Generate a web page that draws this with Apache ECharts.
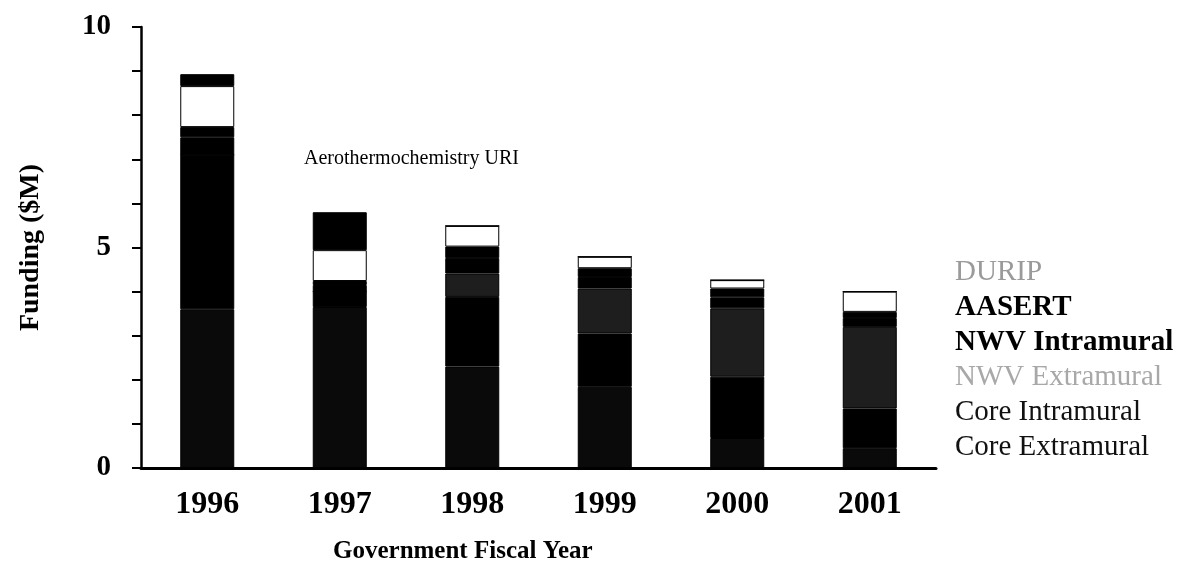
<!DOCTYPE html>
<html>
<head>
<meta charset="utf-8">
<script src="https://cdn.jsdelivr.net/npm/echarts@6/dist/echarts.min.js"></script>
<style>
  html, body { margin: 0; padding: 0; background: #fff; }
  #main { width: 1179px; height: 579px; }
</style>
</head>
<body>
<div id="main"></div>
<script>
// fiscal years on the x axis
const years = ['1996', '1997', '1998', '1999', '2000', '2001'];

// funding per program, $M, stacked bottom -> top
const coreExtramural = [3.60, 3.65, 2.30, 1.84, 0.68, 0.45];
const coreIntramural = [3.50, 0.35, 1.58, 1.21, 1.39, 0.90];
const nwvExtramural  = [0.00, 0.00, 0.53, 1.02, 1.55, 1.85];
const nwvIntramural  = [0.40, 0.15, 0.35, 0.26, 0.25, 0.20];
const aasert         = [0.23, 0.09, 0.26, 0.20, 0.20, 0.14];
const durip          = [0.93, 0.70, 0.47, 0.26, 0.19, 0.46];
const uri            = [0.27, 0.86, 0, 0, 0, 0];

const serif = '"Liberation Serif", "DejaVu Serif", serif';

const chart = echarts.init(document.getElementById('main'), null, { renderer: 'canvas' });

function barSeries(name, data, color) {
  return {
    name: name,
    type: 'bar',
    stack: 'funding',
    data: data,
    barWidth: 54,
    itemStyle: { color: color, borderColor: '#000', borderWidth: 1 },
    emphasis: { disabled: true }
  };
}

const option = {
  animation: false,
  backgroundColor: '#fff',
  textStyle: { fontFamily: serif, color: '#000' },
  grid: { left: 141, right: 243, top: 27, bottom: 111 },
  legend: {
    orient: 'vertical',
    left: 944,
    top: 250,
    selectedMode: false,
    itemWidth: 0,
    itemHeight: 0,
    itemGap: 0,
    itemStyle: { opacity: 0 },
    textStyle: { fontFamily: serif, fontSize: 29, lineHeight: 35, color: '#000', padding: 0 },
    data: [
      { name: 'DURIP', textStyle: { color: '#9a9a9a' } },
      { name: 'AASERT', textStyle: { fontWeight: 'bold' } },
      { name: 'NWV Intramural', textStyle: { fontWeight: 'bold' } },
      { name: 'NWV Extramural', textStyle: { color: '#a8a8a8' } },
      { name: 'Core Intramural', textStyle: { color: '#111' } },
      { name: 'Core Extramural', textStyle: { color: '#111' } }
    ]
  },
  xAxis: {
    type: 'category',
    data: years,
    axisLine: { lineStyle: { color: '#000', width: 3 } },
    axisTick: { show: false },
    axisLabel: { color: '#000', fontFamily: serif, fontWeight: 'bold', fontSize: 32, margin: 21 }
  },
  yAxis: {
    type: 'value',
    min: 0,
    max: 10,
    interval: 5,
    name: 'Funding ($M)',
    nameLocation: 'middle',
    nameRotate: 90,
    nameGap: 96,
    nameTextStyle: { color: '#000', fontFamily: serif, fontWeight: 'bold', fontSize: 28 },
    axisLine: { show: true, lineStyle: { color: '#000', width: 2.5 } },
    axisTick: { show: true, length: 9, lineStyle: { color: '#000', width: 2 } },
    minorTick: { show: true, splitNumber: 5, length: 9, lineStyle: { color: '#000', width: 2 } },
    splitLine: { show: false },
    axisLabel: { color: '#000', fontFamily: serif, fontWeight: 'bold', fontSize: 29, margin: 30 }
  },
  graphic: [
    {
      type: 'text',
      left: 304,
      top: 149,
      style: { text: 'Aerothermochemistry URI', font: '20px ' + serif, fill: '#000' }
    },
    {
      type: 'text',
      left: 333,
      top: 539,
      style: { text: 'Government Fiscal Year', font: 'bold 25px ' + serif, fill: '#000' }
    }
  ],
  series: [
    barSeries('Core Extramural', coreExtramural, '#0a0a0a'),
    barSeries('Core Intramural', coreIntramural, '#000'),
    barSeries('NWV Extramural', nwvExtramural, '#1e1e1e'),
    barSeries('NWV Intramural', nwvIntramural, '#000'),
    barSeries('AASERT', aasert, '#000'),
    barSeries('DURIP', durip, '#fff'),
    barSeries('Aerothermochemistry URI', uri, '#000')
  ]
};

chart.setOption(option);
</script>
</body>
</html>
